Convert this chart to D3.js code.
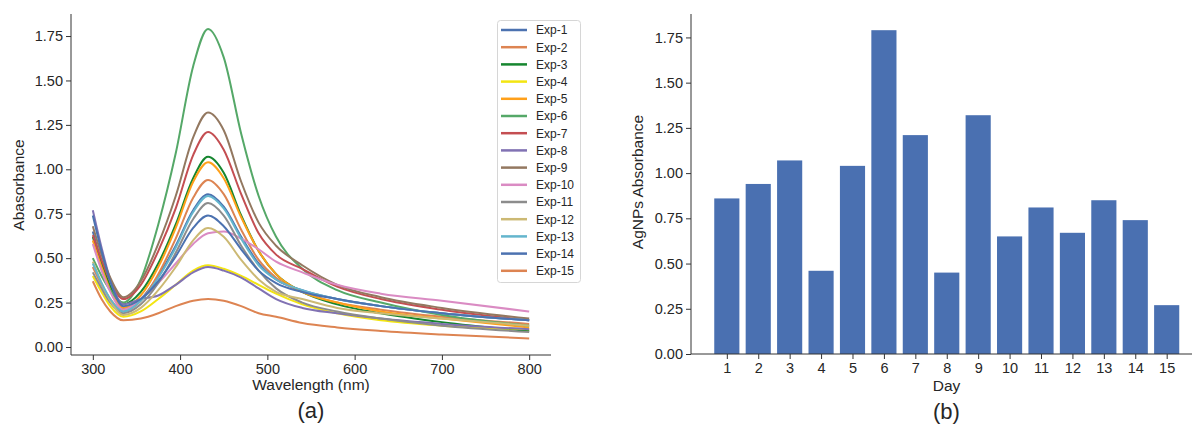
<!DOCTYPE html>
<html>
<head>
<meta charset="utf-8">
<script src="https://cdn.jsdelivr.net/npm/d3@7"></script>
<style>
  body { margin: 0; background: #fff; }
  text { font-family: "Liberation Sans", Arial, sans-serif; fill: #262626; }
</style>
</head>
<body>
<script>
var W = 1192, H = 427;

// spectra, sampled at these wavelengths (nm)
var wavelengths = [300, 310, 320, 335, 355, 375, 395, 415, 432, 450, 470, 490, 510, 540, 580, 630, 700, 800];

var exp1  = [0.65, 0.48, 0.34, 0.22, 0.27, 0.40, 0.57, 0.77, 0.86, 0.79, 0.62, 0.47, 0.38, 0.32, 0.27, 0.23, 0.19, 0.15];
var exp2  = [0.45, 0.35, 0.27, 0.20, 0.26, 0.41, 0.61, 0.84, 0.94, 0.86, 0.66, 0.49, 0.39, 0.31, 0.25, 0.21, 0.17, 0.13];
var exp3  = [0.62, 0.47, 0.34, 0.24, 0.31, 0.47, 0.69, 0.95, 1.07, 0.98, 0.74, 0.54, 0.41, 0.31, 0.24, 0.19, 0.14, 0.09];
var exp4  = [0.40, 0.31, 0.23, 0.17, 0.20, 0.27, 0.35, 0.43, 0.46, 0.44, 0.40, 0.35, 0.30, 0.24, 0.19, 0.15, 0.12, 0.10];
var exp5  = [0.60, 0.45, 0.32, 0.22, 0.29, 0.45, 0.67, 0.93, 1.04, 0.95, 0.73, 0.54, 0.41, 0.31, 0.25, 0.20, 0.16, 0.11];
var exp6  = [0.50, 0.40, 0.32, 0.25, 0.38, 0.69, 1.09, 1.58, 1.79, 1.63, 1.20, 0.85, 0.62, 0.44, 0.32, 0.25, 0.18, 0.12];
var exp7  = [0.63, 0.49, 0.37, 0.27, 0.35, 0.54, 0.78, 1.08, 1.21, 1.11, 0.86, 0.64, 0.52, 0.44, 0.34, 0.27, 0.21, 0.15];
var exp8  = [0.77, 0.56, 0.38, 0.24, 0.27, 0.29, 0.35, 0.42, 0.45, 0.43, 0.39, 0.33, 0.27, 0.22, 0.19, 0.16, 0.13, 0.10];
var exp9  = [0.68, 0.52, 0.39, 0.28, 0.37, 0.58, 0.85, 1.18, 1.32, 1.22, 0.93, 0.70, 0.57, 0.46, 0.35, 0.28, 0.22, 0.16];
var exp10 = [0.58, 0.43, 0.31, 0.21, 0.27, 0.36, 0.47, 0.58, 0.64, 0.65, 0.61, 0.55, 0.48, 0.42, 0.35, 0.30, 0.26, 0.20];
var exp11 = [0.42, 0.33, 0.25, 0.19, 0.24, 0.36, 0.53, 0.72, 0.81, 0.74, 0.57, 0.43, 0.33, 0.25, 0.20, 0.16, 0.12, 0.085];
var exp12 = [0.48, 0.36, 0.26, 0.18, 0.22, 0.32, 0.45, 0.60, 0.67, 0.62, 0.49, 0.38, 0.31, 0.27, 0.22, 0.19, 0.16, 0.12];
var exp13 = [0.47, 0.36, 0.27, 0.20, 0.26, 0.39, 0.56, 0.76, 0.85, 0.78, 0.61, 0.46, 0.38, 0.32, 0.27, 0.23, 0.19, 0.15];
var exp14 = [0.74, 0.54, 0.37, 0.23, 0.27, 0.37, 0.51, 0.67, 0.74, 0.68, 0.55, 0.43, 0.36, 0.31, 0.27, 0.23, 0.19, 0.15];
var exp15 = [0.37, 0.27, 0.20, 0.15, 0.16, 0.19, 0.23, 0.26, 0.27, 0.26, 0.23, 0.19, 0.17, 0.135, 0.11, 0.09, 0.07, 0.048];

var seriesNames = ["Exp-1", "Exp-2", "Exp-3", "Exp-4", "Exp-5", "Exp-6", "Exp-7", "Exp-8",
                   "Exp-9", "Exp-10", "Exp-11", "Exp-12", "Exp-13", "Exp-14", "Exp-15"];
var seriesValues = [exp1, exp2, exp3, exp4, exp5, exp6, exp7, exp8, exp9, exp10, exp11, exp12, exp13, exp14, exp15];
var seriesColors = ["#4c72b0", "#dd8452", "#16862f", "#f3e512", "#ffa01a", "#55a868", "#c44e52", "#8172b3",
                    "#937860", "#da8bc3", "#8c8c8c", "#ccb974", "#64b5cd", "#4c72b0", "#dd8452"];

// bar chart: peak absorbance per day
var days = [1, 2, 3, 4, 5, 6, 7, 8, 9, 10, 11, 12, 13, 14, 15];
var dayAbsorbance = [0.86, 0.94, 1.07, 0.46, 1.04, 1.79, 1.21, 0.45, 1.32, 0.65, 0.81, 0.67, 0.85, 0.74, 0.27];

var yTicks = [0, 0.25, 0.5, 0.75, 1.0, 1.25, 1.5, 1.75];
var xTicks = [300, 400, 500, 600, 700, 800];

var svg = d3.select("body").append("svg").attr("width", W).attr("height", H);

function styleAxis(g) {
    g.selectAll(".domain").remove();
    g.selectAll(".tick line").attr("stroke", "#333").attr("stroke-width", 1);
    g.selectAll(".tick text").attr("font-size", "14.5px").attr("fill", "#262626")
        .attr("font-family", "Liberation Sans, Arial, sans-serif");
}

// ---------- (a) spectra ----------
var x1 = d3.scaleLinear().domain([275, 825]).range([71, 551]);
var y1 = d3.scaleLinear().domain([-0.045, 1.874]).range([355, 14]);

var gA = svg.append("g");

gA.append("g").attr("transform", "translate(0,355)")
    .call(d3.axisBottom(x1).tickValues(xTicks).tickSize(5).tickPadding(4).tickFormat(d3.format("d")))
    .call(styleAxis);
gA.append("g").attr("transform", "translate(71,0)")
    .call(d3.axisLeft(y1).tickValues(yTicks).tickSize(5).tickPadding(3).tickFormat(d3.format(".2f")))
    .call(styleAxis);

// spines (left + bottom only)
gA.append("line").attr("x1", 71).attr("x2", 71).attr("y1", 14).attr("y2", 355).attr("stroke", "#333");
gA.append("line").attr("x1", 71).attr("x2", 551).attr("y1", 355).attr("y2", 355).attr("stroke", "#333");

var line = d3.line()
    .x(function(d, i) { return x1(wavelengths[i]); })
    .y(function(d) { return y1(d); })
    .curve(d3.curveMonotoneX);

gA.selectAll("path.spec")
    .data(seriesValues).enter()
    .append("path")
    .attr("class", "spec")
    .attr("d", function(d) { return line(d); })
    .attr("fill", "none")
    .attr("stroke", function(d, i) { return seriesColors[i]; })
    .attr("stroke-width", 2);

// legend
var legend = gA.append("g");
legend.append("rect").attr("x", 497.5).attr("y", 20.5).attr("width", 83).attr("height", 262)
    .attr("rx", 3).attr("fill", "#fff").attr("fill-opacity", 0.85).attr("stroke", "#d6d6d6");
var items = legend.selectAll("g.item").data(seriesNames).enter()
    .append("g").attr("class", "item")
    .attr("transform", function(d, i) { return "translate(0," + (30 + i * 17.2) + ")"; });
items.append("line").attr("x1", 501).attr("x2", 527).attr("y1", 0).attr("y2", 0)
    .attr("stroke", function(d, i) { return seriesColors[i]; }).attr("stroke-width", 2.5);
items.append("text").attr("x", 536).attr("y", 4.3).attr("font-size", "12px").text(function(d) { return d; });

gA.append("text").attr("transform", "translate(24,185) rotate(-90)")
    .attr("text-anchor", "middle").attr("font-size", "15.5px").text("Abasorbance");
gA.append("text").attr("x", 311).attr("y", 390).attr("text-anchor", "middle")
    .attr("font-size", "15.5px").text("Wavelength (nm)");
gA.append("text").attr("x", 311).attr("y", 418).attr("text-anchor", "middle")
    .attr("font-size", "22px").text("(a)");

// ---------- (b) bars ----------
var x2 = d3.scaleLinear().domain([-0.14, 16.14]).range([691, 1202.5]);
var y2 = d3.scaleLinear().domain([0, 1.8795]).range([354, 14]);
var barW = x2(0.8) - x2(0);

var gB = svg.append("g");

gB.selectAll("rect.bar")
    .data(dayAbsorbance).enter()
    .append("rect")
    .attr("class", "bar")
    .attr("x", function(d, i) { return x2(days[i]) - barW / 2; })
    .attr("y", function(d) { return y2(d); })
    .attr("width", barW)
    .attr("height", function(d) { return y2(0) - y2(d); })
    .attr("fill", "#4a70b1");

gB.append("g").attr("transform", "translate(0,354)")
    .call(d3.axisBottom(x2).tickValues(days).tickSize(5).tickPadding(4).tickFormat(d3.format("d")))
    .call(styleAxis);
gB.append("g").attr("transform", "translate(691,0)")
    .call(d3.axisLeft(y2).tickValues(yTicks).tickSize(5).tickPadding(3).tickFormat(d3.format(".2f")))
    .call(styleAxis);

gB.append("line").attr("x1", 691).attr("x2", 691).attr("y1", 14).attr("y2", 354).attr("stroke", "#333");
gB.append("line").attr("x1", 691).attr("x2", 1202).attr("y1", 354).attr("y2", 354).attr("stroke", "#333");

gB.append("text").attr("transform", "translate(643,182) rotate(-90)")
    .attr("text-anchor", "middle").attr("font-size", "15.5px").text("AgNPs Absorbance");
gB.append("text").attr("x", 946.5).attr("y", 391).attr("text-anchor", "middle")
    .attr("font-size", "15.5px").text("Day");
gB.append("text").attr("x", 946.5).attr("y", 419).attr("text-anchor", "middle")
    .attr("font-size", "22px").text("(b)");
</script>
</body>
</html>
